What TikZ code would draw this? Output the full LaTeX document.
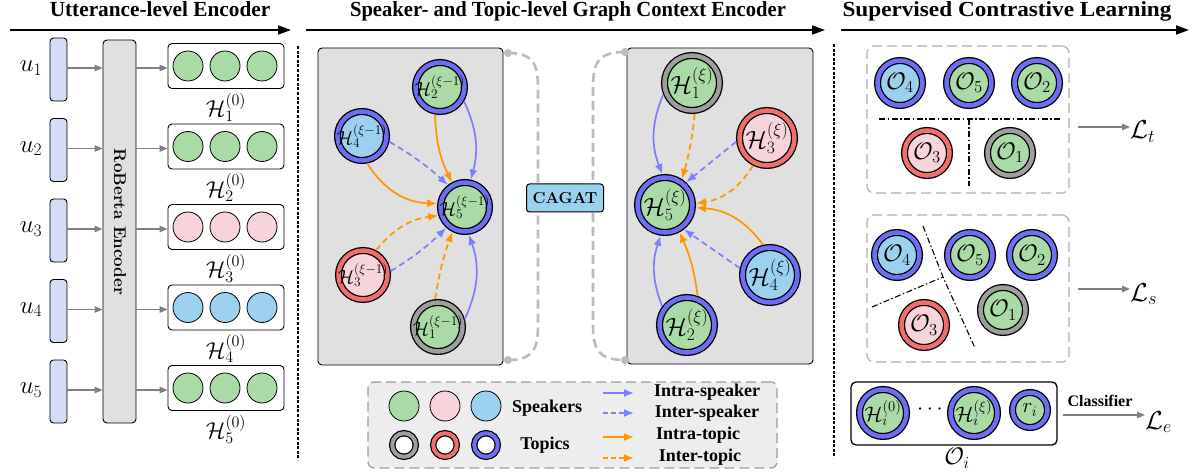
\RequirePackage{fix-cm}
\documentclass[tikz,border=0pt]{standalone}
\usepackage{fontspec}
\newfontfamily\tnr{Liberation Serif}
\usetikzlibrary{arrows.meta,calc}

\definecolor{spkG}{RGB}{170,218,165}
\definecolor{spkP}{RGB}{247,212,218}
\definecolor{spkB}{RGB}{155,208,238}
\definecolor{topK}{RGB}{158,158,158}
\definecolor{topR}{RGB}{240,110,110}
\definecolor{topB}{RGB}{110,110,245}
\definecolor{edgeB}{RGB}{125,125,255}
\definecolor{edgeO}{RGB}{255,150,0}
\definecolor{panelG}{RGB}{224,224,224}
\definecolor{barB}{RGB}{212,220,246}
\definecolor{linkG}{RGB}{188,188,188}
\definecolor{legG}{RGB}{237,237,237}
\definecolor{boxG}{RGB}{175,175,175}
\definecolor{arrG}{RGB}{128,128,128}

\newcommand\fsz[1]{\fontsize{#1}{#1}\selectfont}

\begin{document}
\begin{tikzpicture}[x=1pt,y=-1pt,
  title/.style={font=\tnr\bfseries\fsz{21.5}, anchor=base, inner sep=0pt},
  secarrow/.style={line width=1.8pt, -{Triangle[length=13pt,width=9pt]}},
  seprule/.style={line width=1.2pt, dash pattern=on 3pt off 1.6pt},
  ubar/.style={draw, line width=0.9pt, fill=barB, rounded corners=3.5pt, minimum width=17pt, minimum height=63pt, inner sep=0pt},
  garrow/.style={draw=arrG, line width=1.3pt, -{Triangle[length=8pt,width=6.5pt]}},
  vecbox/.style={draw, line width=0.9pt, rounded corners=4pt, minimum width=116pt, minimum height=45pt, inner sep=0pt},
  vdot/.style={circle, draw, line width=0.8pt, minimum size=30pt, inner sep=0pt},
  gnode/.style={circle, draw=black, line width=1.3pt, double distance=4.5pt, inner sep=0pt, outer sep=3.6pt, minimum size=#1},
  lbl/.style={font=\fsz{#1}, inner sep=0pt},
  intraS/.style={draw=edgeB, line width=1.7pt, -{Latex[length=10pt,width=8pt]}},
  interS/.style={intraS, dash pattern=on 6pt off 4pt},
  intraT/.style={draw=edgeO, line width=1.7pt, -{Latex[length=10pt,width=8pt]}},
  interT/.style={intraT, dash pattern=on 6pt off 4pt},
  panel/.style={draw, line width=0.9pt, fill=panelG, rounded corners=4pt, inner sep=0pt},
  link/.style={draw=linkG, line width=2.6pt, dash pattern=on 9pt off 5pt},
  ldot/.style={circle, fill=linkG, minimum size=8pt, inner sep=0pt},
  legtext/.style={font=\tnr\bfseries\fsz{18}, inner sep=0pt},
  dashbox/.style={draw=boxG, line width=1.2pt, dash pattern=on 10pt off 5pt, rounded corners=7pt, inner sep=0pt},
  ddot/.style={line width=1.1pt, dash pattern=on 6pt off 2.5pt on 1.5pt off 2.5pt},
]
\useasboundingbox (0,0) rectangle (1194,473);

% ---------- section titles and arrows ----------
\node[title] (t1) at (160,17) {\scalebox{0.99}[1]{Utterance-level Encoder}};
\node[title] (t2) at (568,17) {\scalebox{0.96}[1]{Speaker- and Topic-level Graph Context Encoder}};
\node[title] (t3) at (1007,17) {\scalebox{1.08}[1]{Supervised Contrastive Learning}};
\coordinate (a1s) at (10,30);   \coordinate (a1e) at (291,30);
\coordinate (a2s) at (306,30);  \coordinate (a2e) at (825,30);
\coordinate (a3s) at (841,30);  \coordinate (a3e) at (1189,30);
\draw[secarrow] (a1s) -- (a1e);
\draw[secarrow] (a2s) -- (a2e);
\draw[secarrow] (a3s) -- (a3e);

% section separators
\coordinate (s1a) at (298,46);  \coordinate (s1b) at (298,460);
\coordinate (s2a) at (834,44);  \coordinate (s2b) at (834,458);
\draw[seprule] (s1a) -- (s1b);
\draw[seprule] (s2a) -- (s2b);

% ---------- utterance-level encoder ----------
\node[draw, line width=0.9pt, fill=panelG, rounded corners=4pt, minimum width=33pt, minimum height=383pt, inner sep=0pt] (rob) at (119.5,231.5) {};
\node[rotate=-90, font=\bfseries\fsz{17}] (robtxt) at (120,222) {RoBerta Encoder};

\foreach \i/\yy/\col in {1/68/spkG, 2/148.5/spkG, 3/229/spkP, 4/309.5/spkB, 5/390/spkG} {
  \node[font=\fsz{25}, inner sep=0pt] (u\i) at (31,\yy) {$u_{\i}$};
  \node[ubar] (ub\i) at (58.5,\yy+1.5) {};
  \node[vecbox] (vb\i) at (226,\yy-2) {};
  \node[vdot, fill=\col] (vc\i a) at (188,\yy-2) {};
  \node[vdot, fill=\col] (vc\i b) at (225,\yy-2) {};
  \node[vdot, fill=\col] (vc\i c) at (262,\yy-2) {};
  \node[font=\fsz{23}, inner sep=0pt] (h\i) at (226,\yy+39) {$\mathcal{H}_{\i}^{(0)}$};
  \draw[garrow] (ub\i.east |- u\i) -- (rob.west |- u\i);
  \draw[garrow] (rob.east |- u\i) -- (vb\i.west |- u\i);
}

% ---------- graph context encoder: layer xi-1 ----------
\node[panel, minimum width=185pt, minimum height=317pt] (lp) at (410.5,206.5) {};
\node[gnode=49pt, fill=spkG, double=topB, label={[lbl=19]center:$\mathcal{H}_2^{(\xi-1)}$}] (L2) at (440,87) {};
\node[gnode=49pt, fill=spkB, double=topB, label={[lbl=19]center:$\mathcal{H}_4^{(\xi-1)}$}] (L4) at (362,136) {};
\node[gnode=49pt, fill=spkG, double=topB, label={[lbl=19]center:$\mathcal{H}_5^{(\xi-1)}$}] (L5) at (465,207) {};
\node[gnode=49pt, fill=spkP, double=topR, label={[lbl=19]center:$\mathcal{H}_3^{(\xi-1)}$}] (L3) at (363,275) {};
\node[gnode=49pt, fill=spkG, double=topK, label={[lbl=19]center:$\mathcal{H}_1^{(\xi-1)}$}] (L1) at (438,327) {};

\draw[intraT] (L2.260) to[bend right=12] (L5.118);
\draw[intraS] (L2.329) to[bend left=20] (L5.78);
\draw[interS] (L4.348) to[bend left=6] (L5.128);
\draw[intraT] (L4.281) to[bend right=28] (L5.173);
\draw[interT] (L3.62) to[bend left=22] (L5.198);
\draw[interS] (L3.8) to[bend right=6] (L5.228);
\draw[interT] (L1.96) to[bend left=5] (L5.243);
\draw[intraS] (L1.17) to[bend right=22] (L5.278);

% ---------- graph context encoder: layer xi ----------
\node[panel, minimum width=186pt, minimum height=316pt] (rp) at (720,206) {};
\node[gnode=55pt, fill=spkG, double=topK, label={[lbl=25]center:$\mathcal{H}_1^{(\xi)}$}] (R1) at (692,83) {};
\node[gnode=55pt, fill=spkP, double=topR, label={[lbl=25]center:$\mathcal{H}_3^{(\xi)}$}] (R3) at (767,138) {};
\node[gnode=55pt, fill=spkG, double=topB, label={[lbl=25]center:$\mathcal{H}_5^{(\xi)}$}] (R5) at (665,205) {};
\node[gnode=55pt, fill=spkB, double=topB, label={[lbl=25]center:$\mathcal{H}_4^{(\xi)}$}] (R4) at (770,275) {};
\node[gnode=55pt, fill=spkG, double=topB, label={[lbl=25]center:$\mathcal{H}_2^{(\xi)}$}] (R2) at (687,325) {};

\draw[intraS] (R1.202) to[bend right=22] (R5.95);
\draw[interT] (R1.275) to[bend left=5] (R5.57);
\draw[interS] (R3.187) -- (R5.47);
\draw[interT] (R3.243) to[bend left=25] (R5.3);
\draw[intraT] (R4.103) to[bend right=25] (R5.355);
\draw[interS] (R4.167) -- (R5.308);
\draw[intraS] (R2.143) to[bend left=20] (R5.262);
\draw[intraT] (R2.70) to[bend right=8] (R5.298);

% links between the two layers
\node[ldot] (dA) at (508,53) {};
\node[ldot] (dB) at (508,360) {};
\node[ldot] (dC) at (625,52) {};
\node[ldot] (dD) at (625,360) {};
\draw[link] (dA.center) .. controls +(26,0) and +(0,-24) .. ($(dA)+(30,36)$) -- ($(dB)+(30,-36)$) .. controls +(0,24) and +(26,0) .. (dB.center);
\draw[link] (dC.center) .. controls +(-28,0) and +(0,-24) .. ($(dC)+(-32,36)$) -- ($(dD)+(-32,-36)$) .. controls +(0,24) and +(-28,0) .. (dD.center);
\node[draw, line width=1pt, fill=spkB, rounded corners=3pt, minimum width=77pt, minimum height=28pt, inner sep=0pt, font=\bfseries\fsz{16}] (cg) at (565,198) {CAGAT};

% ---------- legend ----------
\node[dashbox, draw=boxG!90!black, fill=legG, minimum width=409pt, minimum height=86pt, rounded corners=6pt] (leg) at (572.5,425) {};
\node[vdot, fill=spkG] (ks1) at (404,406) {};
\node[vdot, fill=spkP] (ks2) at (445,406) {};
\node[vdot, fill=spkB] (ks3) at (486,406) {};
\node[circle, draw=black, line width=1.2pt, double=topK, double distance=4pt, fill=white, minimum size=23.6pt, inner sep=0pt] (kt1) at (404,445) {};
\node[circle, draw=black, line width=1.2pt, double=topR, double distance=4pt, fill=white, minimum size=23.6pt, inner sep=0pt] (kt2) at (445,445) {};
\node[circle, draw=black, line width=1.2pt, double=topB, double distance=4pt, fill=white, minimum size=23.6pt, inner sep=0pt] (kt3) at (486,445) {};
\node[legtext] (kspk) at (547,408) {Speakers};
\node[legtext] (ktop) at (545,445) {Topics};
\node[legtext] (k1) at (707,392) {Intra-speaker};
\node[legtext] (k2) at (707,413) {Inter-speaker};
\node[legtext] (k3) at (698,435) {Intra-topic};
\node[legtext] (k4) at (700,457) {Inter-topic};
\coordinate (ka1) at (603,393); \coordinate (kb1) at (634,393);
\coordinate (ka2) at (603,413); \coordinate (kb2) at (634,413);
\coordinate (ka3) at (603,437); \coordinate (kb3) at (634,437);
\coordinate (ka4) at (603,458); \coordinate (kb4) at (634,458);
\draw[intraS] (ka1) -- (kb1);
\draw[interS, dash pattern=on 5pt off 3pt] (ka2) -- (kb2);
\draw[intraT] (ka3) -- (kb3);
\draw[interT, dash pattern=on 5pt off 3pt] (ka4) -- (kb4);

% ---------- supervised contrastive learning ----------
% topic-level grouping
\node[dashbox, minimum width=202pt, minimum height=147pt] (b1) at (968,119.5) {};
\node[gnode=45pt, fill=spkB, double=topB, label={[lbl=24]center:$\mathcal{O}_4$}] (T4) at (900,83) {};
\node[gnode=45pt, fill=spkG, double=topB, label={[lbl=24]center:$\mathcal{O}_5$}] (T5) at (969,83) {};
\node[gnode=45pt, fill=spkG, double=topB, label={[lbl=24]center:$\mathcal{O}_2$}] (T2) at (1037,83) {};
\node[gnode=45pt, fill=spkP, double=topR, label={[lbl=24]center:$\mathcal{O}_3$}] (T3) at (927,153) {};
\node[gnode=45pt, fill=spkG, double=topK, label={[lbl=24]center:$\mathcal{O}_1$}] (T1) at (1010,153) {};
\coordinate (tl1) at (879,119); \coordinate (tl2) at (1062,119);
\coordinate (tl3) at (969,119); \coordinate (tl4) at (969,186);
\draw[ddot] (tl1) -- (tl2);
\draw[ddot] (tl3) -- (tl4);
\node[font=\fsz{26}, anchor=base west, inner sep=0pt] (Lt) at (1130,139) {$\mathcal{L}_t$};
\coordinate (lts) at (1078,127);
\draw[garrow] (lts) -- (lts -| Lt.west);

% speaker-level grouping
\node[dashbox, minimum width=202pt, minimum height=147pt] (b2) at (968,288.5) {};
\node[gnode=45pt, fill=spkB, double=topB, label={[lbl=24]center:$\mathcal{O}_4$}] (S4) at (897,255) {};
\node[gnode=45pt, fill=spkG, double=topB, label={[lbl=24]center:$\mathcal{O}_5$}] (S5) at (970,255) {};
\node[gnode=45pt, fill=spkG, double=topB, label={[lbl=24]center:$\mathcal{O}_2$}] (S2) at (1032,255) {};
\node[gnode=45pt, fill=spkG, double=topK, label={[lbl=24]center:$\mathcal{O}_1$}] (S1) at (1003,310) {};
\node[gnode=45pt, fill=spkP, double=topR, label={[lbl=24]center:$\mathcal{O}_3$}] (S3) at (924,325) {};
\coordinate (sl1) at (923,226); \coordinate (sl2) at (943,277);
\coordinate (sl3) at (975,348); \coordinate (sl4) at (872,307);
\draw[ddot] (sl1) -- (sl2) -- (sl3);
\draw[ddot] (sl4) -- (sl2);
\node[font=\fsz{26}, anchor=base west, inner sep=0pt] (Ls) at (1130,301) {$\mathcal{L}_s$};
\coordinate (lss) at (1078,289);
\draw[garrow] (lss) -- (lss -| Ls.west);

% emotion classification
\node[draw, line width=1.3pt, rounded corners=5pt, minimum width=206pt, minimum height=63pt, inner sep=0pt] (ob) at (954,413.5) {};
\node[gnode=47pt, fill=spkG, double=topB, label={[lbl=21]center:$\mathcal{H}_i^{(0)}$}] (Hi0) at (883,413) {};
\node[font=\fsz{22}, inner sep=0pt] (dots) at (930,410) {$\cdots$};
\node[gnode=47pt, fill=spkG, double=topB, label={[lbl=21]center:$\mathcal{H}_i^{(\xi)}$}] (Hix) at (974,413) {};
\node[gnode=35pt, fill=spkG, double=topB, label={[lbl=21]center:$r_i$}] (ri) at (1030,410) {};
\node[font=\fsz{24}, inner sep=0pt] (Oi) at (957,458) {$\mathcal{O}_i$};
\node[font=\tnr\bfseries\fsz{16}, inner sep=0pt] (cls) at (1100,401) {Classifier};
\node[font=\fsz{26}, anchor=base west, inner sep=0pt] (Le) at (1145,429) {$\mathcal{L}_e$};
\coordinate (les) at (1063,415);
\draw[garrow] (les) -- (les -| Le.west);
\end{tikzpicture}
\end{document}
